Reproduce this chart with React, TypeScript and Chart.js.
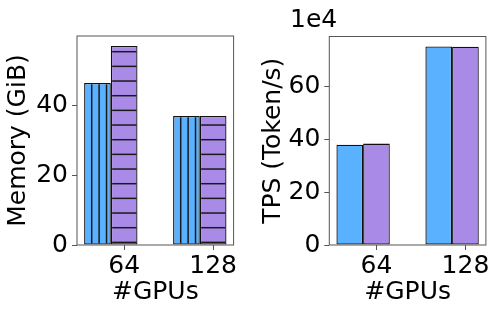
import React, { useEffect, useRef } from "react";
import { Chart, registerables } from "chart.js";

Chart.register(...registerables);

// ---- data ----
const categories = ["64", "128"];
const groupIndex = [0, 1];
const memoryBaseline = [46.3, 36.9];
const memoryOurs = [56.9, 36.9];
const memoryTicks = [0, 20, 40];
const tpsBaseline = [380000, 752000];
const tpsOurs = [384000, 751000];
const tpsTicks = [0, 200000, 400000, 600000];
const tpsScale = 10000;
const tpsOffsetLabel = "1e4";

// ---- style ----
const FONT = "DejaVu Sans";
const BLUE = "#5AB1FF";
const PURPLE = "#A98BE7";
const EDGE = "#111111";
const SPINE = "#555555";
const X_TICK_SHIFT = 0.15;

function makeVHatch(bg: string) {
  const c = document.createElement("canvas");
  c.width = 89;
  c.height = 4;
  const g = c.getContext("2d")!;
  g.fillStyle = bg;
  g.fillRect(0, 0, 89, 4);
  g.strokeStyle = "#1a1a1a";
  g.lineWidth = 1.5;
  for (let k = 0; k < 12; k++) {
    const x = 2.7 + (k * 89) / 12;
    g.beginPath();
    g.moveTo(x, 0);
    g.lineTo(x, 4);
    g.stroke();
  }
  return g.createPattern(c, "repeat")!;
}

function makeHHatch(bg: string) {
  const c = document.createElement("canvas");
  c.width = 4;
  c.height = 88;
  const g = c.getContext("2d")!;
  g.fillStyle = bg;
  g.fillRect(0, 0, 4, 88);
  g.strokeStyle = "#1a1a1a";
  g.lineWidth = 1.5;
  for (let k = 0; k < 6; k++) {
    const y = 7.7 + (k * 88) / 6;
    g.beginPath();
    g.moveTo(0, y);
    g.lineTo(4, y);
    g.stroke();
  }
  return g.createPattern(c, "repeat")!;
}

const framePlugin = {
  id: "frame",
  afterDraw(chart: any) {
    const { ctx, chartArea: a } = chart;
    ctx.save();
    ctx.strokeStyle = SPINE;
    ctx.lineWidth = 1;
    ctx.strokeRect(a.left, a.top, a.right - a.left, a.bottom - a.top);
    ctx.restore();
  },
};

function buildConfig(opts: {
  s1: number[];
  s2: number[];
  bg1: any;
  bg2: any;
  yTicks: number[];
  yMax: number;
  yTitle: string;
  yLabel: (v: number) => string;
  padding: any;
  yWidth: number;
  xHeight: number;
  extraPlugins: any[];
}) {
  const font = { family: FONT, size: 25, lineHeight: 1 };
  return {
    type: "bar",
    data: {
      datasets: [
        {
          data: groupIndex.map((x, i) => ({ x, y: opts.s1[i] })),
          backgroundColor: opts.bg1,
          borderColor: EDGE,
          borderWidth: 1.3,
          borderSkipped: false,
          categoryPercentage: 0.6,
          barPercentage: 1.0,
        },
        {
          data: groupIndex.map((x, i) => ({ x, y: opts.s2[i] })),
          backgroundColor: opts.bg2,
          borderColor: EDGE,
          borderWidth: 1.3,
          borderSkipped: false,
          categoryPercentage: 0.6,
          barPercentage: 1.0,
        },
      ],
    },
    options: {
      animation: false,
      responsive: false,
      events: [],
      layout: { padding: opts.padding },
      plugins: { legend: { display: false }, tooltip: { enabled: false } },
      scales: {
        x: {
          type: "linear",
          min: -0.38,
          max: 1.38,
          offset: false,
          border: { display: false },
          grid: {
            display: true,
            drawOnChartArea: false,
            drawTicks: true,
            tickLength: 5,
            color: SPINE,
            lineWidth: 1,
            offset: false,
          },
          afterBuildTicks: (s: any) => {
            s.ticks = groupIndex.map((g) => ({ value: g + X_TICK_SHIFT }));
          },
          afterFit: (s: any) => {
            s.height = opts.xHeight;
          },
          ticks: {
            autoSkip: false,
            maxRotation: 0,
            padding: 4,
            color: "#000",
            font,
            callback: (_v: any, i: number) => categories[i],
          },
          title: {
            display: true,
            text: "#GPUs",
            color: "#000",
            font,
            padding: 0,
          },
        },
        y: {
          type: "linear",
          min: 0,
          max: opts.yMax,
          border: { display: false },
          grid: {
            display: true,
            drawOnChartArea: false,
            drawTicks: true,
            tickLength: 5,
            color: SPINE,
            lineWidth: 1,
          },
          afterBuildTicks: (s: any) => {
            s.ticks = opts.yTicks.map((v) => ({ value: v }));
          },
          afterFit: (s: any) => {
            s.width = opts.yWidth;
          },
          ticks: {
            padding: 4,
            color: "#000",
            font,
            callback: (v: any) => opts.yLabel(Number(v)),
          },
          title: {
            display: true,
            text: opts.yTitle,
            color: "#000",
            font,
            padding: 0,
          },
        },
      },
    },
    plugins: [framePlugin, ...opts.extraPlugins],
  };
}

export default function App() {
  const leftRef = useRef<HTMLCanvasElement>(null);
  const rightRef = useRef<HTMLCanvasElement>(null);

  useEffect(() => {
    const left = new Chart(
      leftRef.current!,
      buildConfig({
        s1: memoryBaseline,
        s2: memoryOurs,
        bg1: makeVHatch(BLUE),
        bg2: makeHHatch(PURPLE),
        yTicks: memoryTicks,
        yMax: Math.max(...memoryBaseline, ...memoryOurs) * 1.05,
        yTitle: "Memory (GiB)",
        yLabel: (v) => String(v),
        padding: { left: 6, top: 36, right: 16.4, bottom: 10.5 },
        yWidth: 71,
        xHeight: 59.5,
        extraPlugins: [],
      }) as any
    );
    const offsetPlugin = {
      id: "offsetText",
      afterDraw(chart: any) {
        const ctx = chart.ctx;
        ctx.save();
        ctx.font = `25px "${FONT}"`;
        ctx.fillStyle = "#000";
        ctx.textAlign = "left";
        ctx.textBaseline = "alphabetic";
        ctx.fillText(tpsOffsetLabel, 40, 27.3);
        ctx.restore();
      },
    };
    const right = new Chart(
      rightRef.current!,
      buildConfig({
        s1: tpsBaseline,
        s2: tpsOurs,
        bg1: BLUE,
        bg2: PURPLE,
        yTicks: tpsTicks,
        yMax: Math.max(...tpsBaseline, ...tpsOurs) * 1.05,
        yTitle: "TPS (Token/s)",
        yLabel: (v) => String(Math.round(v / tpsScale)),
        padding: { left: 11.2, top: 36.5, right: 12.1, bottom: 10.5 },
        yWidth: 68.1,
        xHeight: 59.5,
        extraPlugins: [offsetPlugin],
      }) as any
    );
    return () => {
      left.destroy();
      right.destroy();
    };
  }, []);

  return (
    <div
      style={{
        position: "fixed",
        left: 0,
        top: 0,
        width: 498,
        height: 315,
        background: "#fff",
      }}
    >
      <canvas
        ref={leftRef}
        width={250}
        height={315}
        style={{ position: "absolute", left: 0, top: 0, width: 250, height: 315 }}
      />
      <canvas
        ref={rightRef}
        width={248}
        height={315}
        style={{ position: "absolute", left: 250, top: 0, width: 248, height: 315 }}
      />
    </div>
  );
}
